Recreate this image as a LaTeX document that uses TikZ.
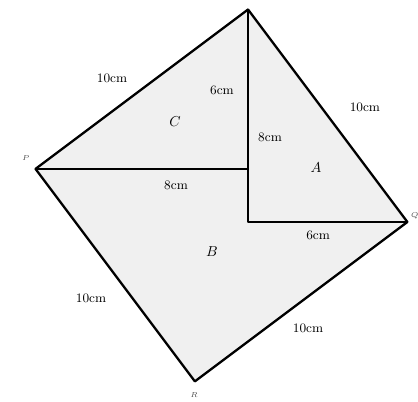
\documentclass[tikz,border=0pt]{standalone}
\usepackage{amsmath}
\usepackage{tikz}
\usetikzlibrary{calc}
\definecolor{shade}{RGB}{240,240,240}
\tikzset{
  side/.style={font=\small},
  corner/.style={font=\tiny, text=black!70},
}

\begin{document}
\begin{tikzpicture}[x=0.65cm,y=0.65cm,line cap=round,line join=round]
  \useasboundingbox (-9.337,-6.739) rectangle (6.40,8.358);
  % vertices
  \coordinate (top) at (0,8);
  \coordinate (lft) at (-8,2);
  \coordinate (rgt) at (6,0);
  \coordinate (bot) at (-2,-6);
  \coordinate (inn) at (0,0);
  \coordinate (mid) at (0,2);

  % square
  \draw[line width=1.6pt, fill=shade] (top) -- (rgt) -- (bot) -- (lft) -- cycle;
  % inner legs
  \draw[line width=1.4pt] (top) -- (inn) -- (rgt);
  \draw[line width=1.4pt] (lft) -- (mid);

  % labels
  \node[side] (l1) at (-5.12,5.42) {10cm};
  \node[side] (l2) at (4.40,4.33) {10cm};
  \node[side] (l3) at (-5.91,-2.86) {10cm};
  \node[side] (l4) at (2.26,-3.99) {10cm};
  \node[side] (l5) at (-0.98,4.97) {6cm};
  \node[side] (l6) at (0.83,3.20) {8cm};
  \node[side] (l7) at (-2.71,1.39) {8cm};
  \node[side] (l8) at (2.64,-0.49) {6cm};
  \node (ta) at (2.56,2.03) {$A$};
  \node (tb) at (-1.36,-1.13) {$B$};
  \node (tc) at (-2.75,3.77) {$C$};
  \node[corner] (pp) at (-8.36,2.41) {$P$};
  \node[corner] (pq) at (6.28,0.23) {$Q$};
  \node[corner] (pr) at (-2.03,-6.51) {$R$};
\end{tikzpicture}
\end{document}
